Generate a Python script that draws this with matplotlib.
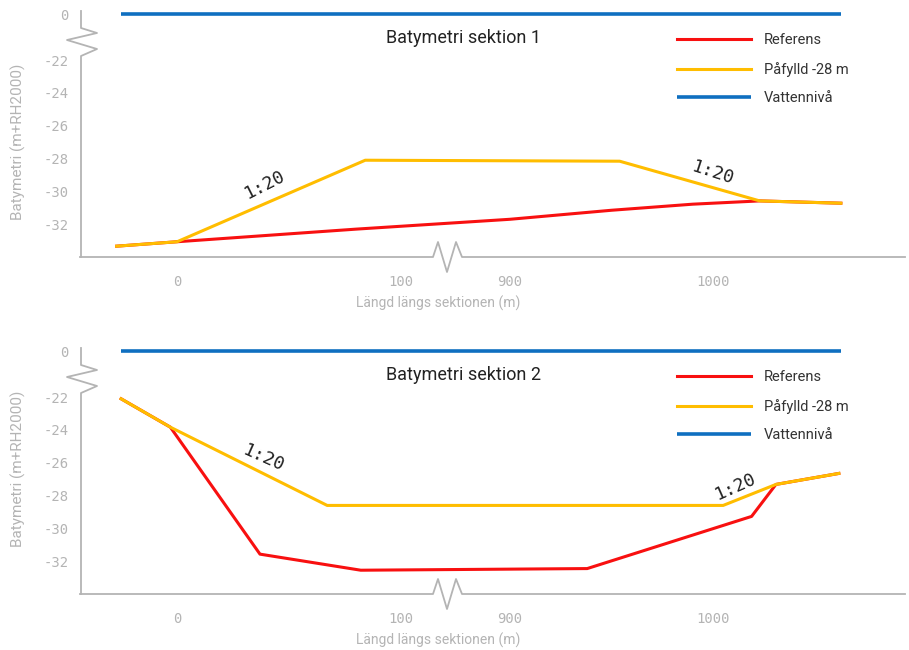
import numpy as np
import matplotlib.pyplot as plt
from matplotlib.lines import Line2D

# Sektion 1
s1_ref_x = [-27, 0, 80, 900, 950, 990, 1023, 1063]
s1_ref_y = [-33.34, -33.07, -32.3, -31.7, -31.15, -30.78, -30.58, -30.72]
s1_fill_x = [-27, 0, 84, 954, 1023, 1063]
s1_fill_y = [-33.34, -33.07, -28.1, -28.16, -30.58, -30.72]

# Sektion 2
s2_ref_x = [-25, -3, 37, 82, 938, 1019, 1031, 1062]
s2_ref_y = [-22.1, -23.83, -31.57, -32.55, -32.45, -29.27, -27.32, -26.65]
s2_fill_x = [-25, -3, 67, 1005, 1031, 1062]
s2_fill_y = [-22.1, -23.83, -28.6, -28.6, -27.32, -26.65]

water_x = [-25, 1063]
water_y = [0, 0]

# 1:20-etiketter (x, y, rotation)
s1_slopes = [(39, -29.6, 27), (1000, -28.85, -18)]
s2_slopes = [(38.5, -25.7, -24), (1011, -27.45, 24)]

xticks = [0, 100, 900, 1000]
yticks = [-32, -30, -28, -26, -24, -22, 0]

C_RED = '#f81010'
C_YEL = '#ffbd00'
C_BLUE = '#0f6fc0'
C_GRAY = '#b4b4b4'

# bruten x-axel: 100..900 komprimeras
XB = [-1e4, 100, 900, 1e5]
FX = [-1e4, 100, 148.66, 148.66 + (1e5 - 900) * 0.906]
# bruten y-axel: -22..0 komprimeras
YB = [-1e3, -22, 1e3]
GY = [-1e3, -22, -22 + 1022 * 0.127]


def fx(x):
    return np.interp(x, XB, FX)


def fx_inv(x):
    return np.interp(x, FX, XB)


def gy(y):
    return np.interp(y, YB, GY)


def gy_inv(y):
    return np.interp(y, GY, YB)


W, H = 824.0, 246.0  # axes i pixlar


def draw_axes_lines(ax):
    # y-axel med sicksack
    ypts = [(0, 0), (0, 17), (16, 22), (-14, 29), (16, 38), (0, 45), (0, 246)]
    xs = [p[0] / W for p in ypts]
    ys = [1 - p[1] / H for p in ypts]
    ax.add_line(Line2D(xs, ys, transform=ax.transAxes, color=C_GRAY, lw=1.3,
                       clip_on=False))
    # x-axel med sicksack
    xpts = [(-1, 0), (352, 0), (357, 15), (366, -15), (375, 15), (381, 0), (824, 0)]
    xs = [p[0] / W for p in xpts]
    ys = [p[1] / H for p in xpts]
    ax.add_line(Line2D(xs, ys, transform=ax.transAxes, color=C_GRAY, lw=1.3,
                       clip_on=False))


def panel(ax, title, ref_x, ref_y, fill_x, fill_y, slopes, ylab_y):
    ax.set_xscale('function', functions=(fx, fx_inv))
    ax.set_yscale('function', functions=(gy, gy_inv))
    ax.plot(water_x, water_y, color=C_BLUE, lw=2.6, label='Vattennivå',
            solid_capstyle='butt')
    ax.plot(ref_x, ref_y, color=C_RED, lw=2.2, label='Referens')
    ax.plot(fill_x, fill_y, color=C_YEL, lw=2.2, label='Påfylld -28 m')
    ax.set_xlim(-42.9, 1094.6)
    ax.set_ylim(-34, 1.6)
    for sp in ax.spines.values():
        sp.set_visible(False)
    draw_axes_lines(ax)
    ax.set_xticks(xticks)
    ax.set_xticklabels([str(v) for v in xticks])
    ax.set_yticks(yticks)
    ax.set_yticklabels([str(v) for v in yticks])
    ax.tick_params(axis='both', length=0, colors=C_GRAY, labelsize=10)
    ax.tick_params(axis='y', pad=9)
    ax.tick_params(axis='x', pad=13)
    for lab in ax.get_xticklabels() + ax.get_yticklabels():
        lab.set_family('DejaVu Sans Mono')
    ax.text(0.4636, 0.89, title, transform=ax.transAxes, ha='center',
            va='center', fontsize=13, color='#222222', family='Roboto')
    ax.text(0.433, -0.19, 'Längd längs sektionen (m)', transform=ax.transAxes,
            ha='center', va='center', fontsize=10, color=C_GRAY, family='Roboto')
    ax.text(-0.0765, ylab_y, 'Batymetri (m+RH2000)', transform=ax.transAxes,
            ha='center', va='center', rotation=90, fontsize=11, color=C_GRAY,
            family='Roboto')
    for x, y, r in slopes:
        ax.text(x, y, '1:20', rotation=r, ha='center', va='center', fontsize=13,
                color='#222222', family='DejaVu Sans Mono',
                rotation_mode='anchor')
    h, l = ax.get_legend_handles_labels()
    order = [1, 2, 0]
    leg = ax.legend([h[i] for i in order], [l[i] for i in order],
                    loc='upper left', bbox_to_anchor=(0.716, 0.933),
                    borderaxespad=0, frameon=False, handlelength=5.1,
                    handletextpad=0.86, labelspacing=1.0,
                    prop={'family': 'Roboto', 'size': 10.5})
    for t in leg.get_texts():
        t.set_color('#333333')


def main():
    fig = plt.figure(figsize=(9.09, 6.5), dpi=100)
    ax1 = fig.add_axes([81 / 909, 1 - 257 / 650, W / 909, H / 650])
    ax2 = fig.add_axes([81 / 909, 1 - 594 / 650, W / 909, H / 650])
    panel(ax1, 'Batymetri sektion 1', s1_ref_x, s1_ref_y, s1_fill_x, s1_fill_y,
          s1_slopes, 0.47)
    panel(ax2, 'Batymetri sektion 2', s2_ref_x, s2_ref_y, s2_fill_x, s2_fill_y,
          s2_slopes, 0.51)
    fig.savefig('out.png', dpi=100)


if __name__ == '__main__':
    main()
